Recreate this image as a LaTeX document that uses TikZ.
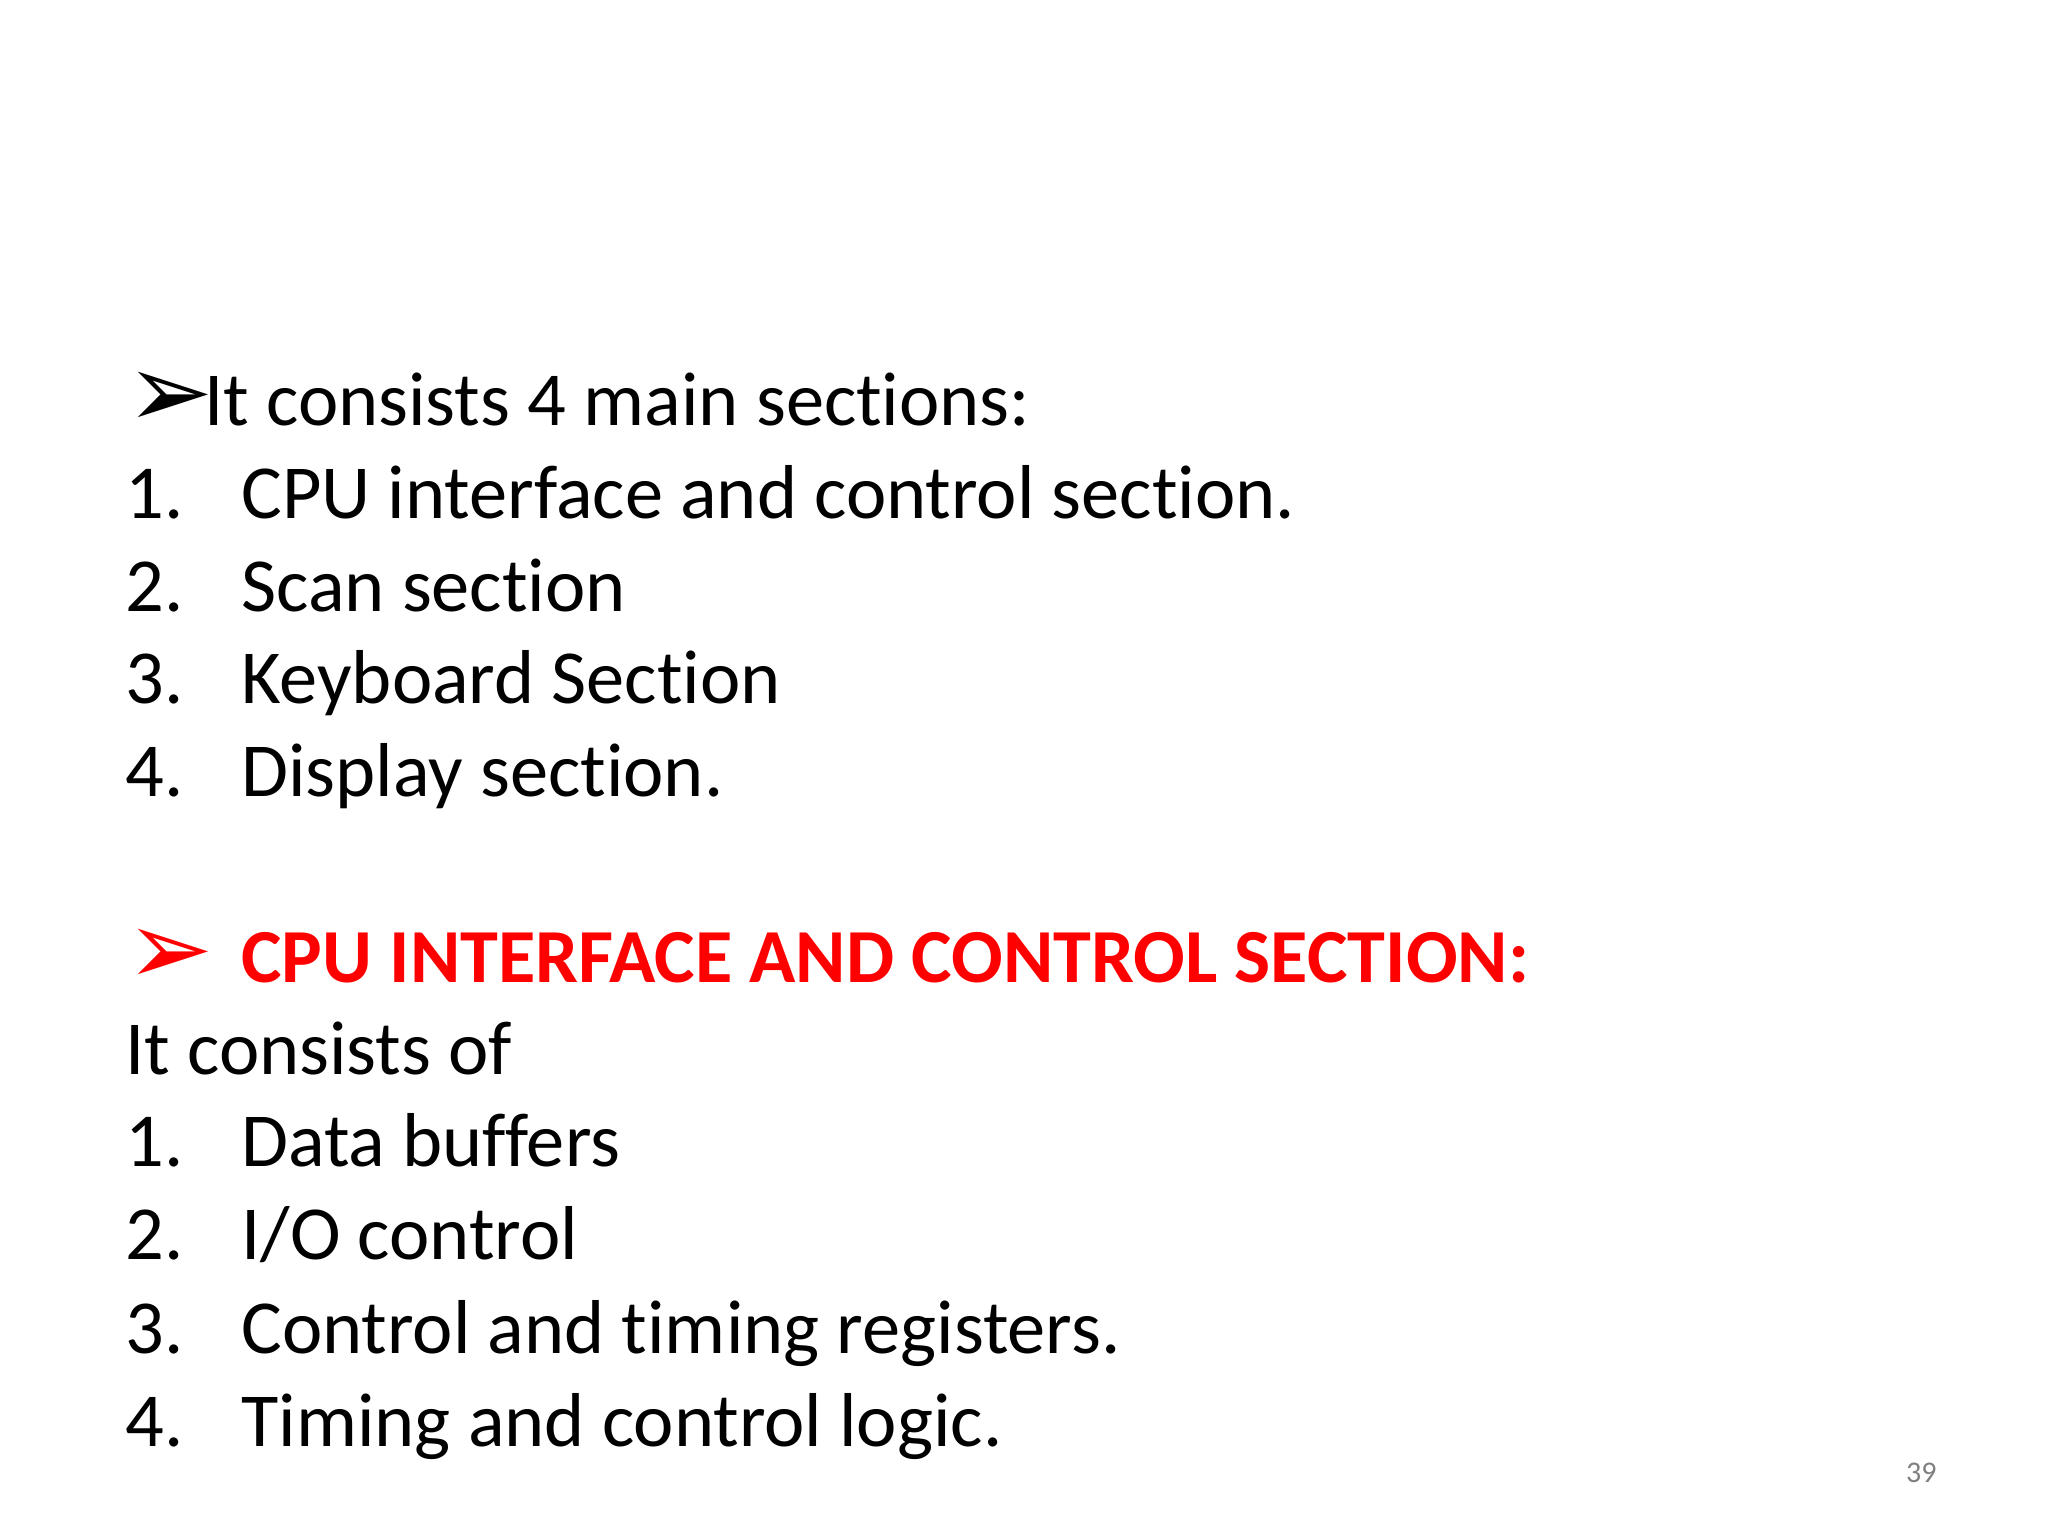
\documentclass[tikz,border=0pt]{standalone}
\usepackage{fontspec}
\setmainfont[Ligatures=NoCommon]{Carlito}
\newfontfamily\djv{DejaVu Sans}
\definecolor{redh}{RGB}{255,0,0}
\begin{document}
\begin{tikzpicture}[x=0.5pt,y=-0.5pt,
  txt/.style={anchor=base west,inner sep=0pt,font=\fontsize{38.2}{46}\selectfont},
  num/.style={txt},
  bul/.style={anchor=base west,inner sep=0pt,font=\djv\fontsize{52}{56}\selectfont},
  red/.style={txt,text=redh,font=\fontsize{38.2}{46}\selectfont\bfseries}]
\fill[white] (0,0) rectangle (2048,1536);
\node[bul] (b1) at (126,427) {➢};
\node[txt] (l0) at (204,425) {It consists 4 main sections:};
\node[num] (n1) at (125,518) {1.}; \node[txt] (t1) at (241,518) {CPU interface and control section.};
\node[num] (n2) at (125,611) {2.}; \node[txt] (t2) at (241,611) {Scan section};
\node[num] (n3) at (125,703) {3.}; \node[txt] (t3) at (241,703) {Keyboard Section};
\node[num] (n4) at (125,796) {4.}; \node[txt] (t4) at (241,796) {Display section.};
\node[bul,text=redh] (b2) at (126,984) {➢};
\node[red] (h) at (241,982) {CPU INTERFACE AND CONTROL SECTION:};
\node[txt] (c0) at (125,1074) {It consists of};
\node[num] (m1) at (125,1166) {1.}; \node[txt] (s1) at (241,1166) {Data buffers};
\node[num] (m2) at (125,1259) {2.}; \node[txt] (s2) at (241,1259) {I/O control};
\node[num] (m3) at (125,1353) {3.}; \node[txt] (s3) at (241,1353) {Control and timing registers.};
\node[num] (m4) at (125,1446) {4.}; \node[txt] (s4) at (241,1446) {Timing and control logic.};
\node[anchor=base east,inner sep=0pt,text=gray,font=\fontsize{15}{18}\selectfont] (pg) at (1937,1482) {39};
\end{tikzpicture}
\end{document}
